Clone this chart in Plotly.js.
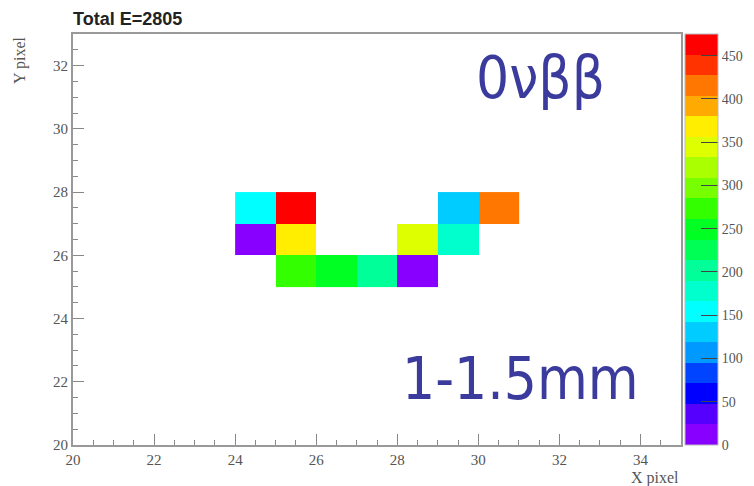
<!DOCTYPE html>
<html>
<head>
<meta charset="utf-8">
<script src="https://cdn.plot.ly/plotly-3.0.1.min.js"></script>
<style>html,body{margin:0;padding:0;background:#fff;}#chart{width:754px;height:486px;}</style>
</head>
<body>
<div id="chart"></div>
<script>
// Pixel bin centres (x, y) and deposited energy per pixel
const xPixel = [24.5, 25.5, 29.5, 30.5, 24.5, 25.5, 28.5, 29.5, 25.5, 26.5, 27.5, 28.5];
const yPixel = [27.5, 27.5, 27.5, 27.5, 26.5, 26.5, 26.5, 26.5, 25.5, 25.5, 25.5, 25.5];
const energy = [155, 465, 130, 412, 12, 368, 345, 178, 272, 250, 205, 13];
const xTicks = [20, 22, 24, 26, 28, 30, 32, 34];
const yTicks = [20, 22, 24, 26, 28, 30, 32];
const zTicks = [0, 50, 100, 150, 200, 250, 300, 350, 400, 450];

// ROOT-like discrete palette (20 contour levels), bottom to top
const palette = ['#8800ff','#5500ff','#0000ff','#0044ff','#0099ff','#00ccff','#00ffff','#00ffcc','#00ff99','#00ff55',
                 '#00ff22','#33ff00','#77ff00','#aaff00','#ddff00','#ffee00','#ffaa00','#ff7700','#ff3300','#ff0000'];
const colorscale = [];
palette.forEach((c, i) => { colorscale.push([i / palette.length, c]); colorscale.push([(i + 1) / palette.length, c]); });

const totalE = energy.reduce((a, b) => a + b, 0);

const serif = '"Liberation Serif", "Times New Roman", serif';
const tickFont = {family: serif, size: 15, color: '#555'};
const titleFont = {family: serif, size: 16, color: '#555'};
const textColor = '#3b3b9e';
const bigFont = '"DejaVu Sans Condensed", "DejaVu Sans", sans-serif';

const trace = {
  type: 'heatmap',
  x: xPixel, y: yPixel, z: energy,
  zmin: 0, zmax: 475,
  colorscale: colorscale,
  xgap: 0, ygap: 0,
  colorbar: {
    x: 1.0066, xanchor: 'left', xpad: 0,
    y: 0.5, yanchor: 'middle', ypad: 0,
    len: 1, lenmode: 'fraction',
    thickness: 33,
    outlinewidth: 1, outlinecolor: '#bbb',
    tickmode: 'array', tickvals: zTicks, ticktext: zTicks.map(String),
    ticks: 'inside', ticklen: 17, tickwidth: 1, tickcolor: '#444',
    tickfont: {family: serif, size: 14, color: '#555'}
  }
};

const layout = {
  width: 754, height: 486,
  margin: {l: 73, r: 73, t: 34, b: 41, pad: 0, autoexpand: false},
  paper_bgcolor: '#fff', plot_bgcolor: '#fff',
  title: {
    text: '<b>Total E=' + totalE + '</b>',
    x: 73 / 754, xanchor: 'left', xref: 'container',
    y: 1 - 19 / 486, yanchor: 'middle', yref: 'container',
    font: {family: '"Liberation Sans", Arial, sans-serif', size: 18, color: '#222'}
  },
  xaxis: {
    range: [20, 35], showgrid: false, zeroline: false,
    showline: true, linecolor: '#999', linewidth: 2, mirror: true,
    tickmode: 'array', tickvals: xTicks,
    ticks: 'inside', ticklen: 11, tickcolor: '#888', tickwidth: 1,
    minor: {dtick: 0.5, tick0: 20, ticks: 'inside', ticklen: 5, tickcolor: '#888', showgrid: false},
    tickfont: tickFont
  },
  yaxis: {
    range: [20, 33], showgrid: false, zeroline: false,
    showline: true, linecolor: '#999', linewidth: 2, mirror: true,
    tickmode: 'array', tickvals: yTicks,
    ticks: 'inside', ticklen: 11, tickcolor: '#888', tickwidth: 1,
    minor: {dtick: 0.5, tick0: 20, ticks: 'inside', ticklen: 5, tickcolor: '#888', showgrid: false},
    tickfont: tickFont
  },
  annotations: [
    {text: 'X pixel', xref: 'paper', yref: 'paper', x: 1, y: 0, xanchor: 'right', yanchor: 'top', yshift: -22,
     showarrow: false, font: titleFont},
    {text: 'Y pixel', xref: 'paper', yref: 'paper', x: 0, y: 1, xanchor: 'right', yanchor: 'top', xshift: -42,
     textangle: -90, showarrow: false, font: titleFont},
    {text: '0νββ', xref: 'paper', yref: 'paper', x: (540 - 73) / 608, y: (445 - 78) / 411, xanchor: 'center', yanchor: 'middle',
     showarrow: false, font: {family: bigFont, size: 58, color: textColor}},
    {text: '1-1.5mm', xref: 'paper', yref: 'paper', x: (520 - 73) / 608, y: (445 - 379) / 411, xanchor: 'center', yanchor: 'middle',
     showarrow: false, font: {family: bigFont, size: 58, color: textColor}}
  ]
};

Plotly.newPlot('chart', [trace], layout, {displayModeBar: false, staticPlot: true});
</script>
</body>
</html>
